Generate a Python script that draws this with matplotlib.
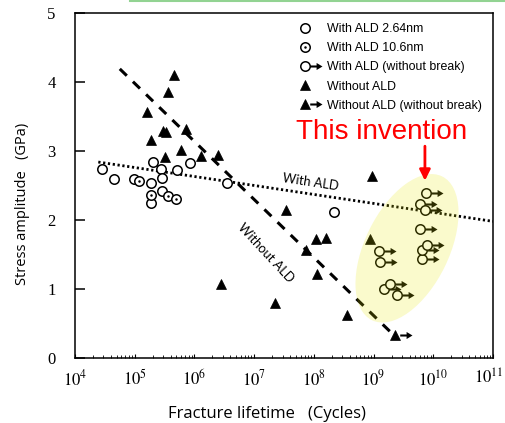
import numpy as np
import matplotlib
matplotlib.use("Agg")
import matplotlib.pyplot as plt
from matplotlib.path import Path
from matplotlib.patches import Ellipse
from matplotlib.lines import Line2D
from matplotlib.legend_handler import HandlerTuple
from matplotlib.transforms import ScaledTranslation

plt.rcParams["mathtext.fontset"] = "stix"

# values (x as log10 of cycles, y in GPa)
ald264_logn = [4.46, 4.65, 4.98, 5.27, 5.30, 5.44, 5.45, 5.71, 5.93, 6.54, 8.34, 5.27, 5.45]
ald264_gpa = [2.74, 2.60, 2.59, 2.53, 2.84, 2.74, 2.61, 2.73, 2.82, 2.53, 2.12, 2.24, 2.42]

ald106_logn = [5.08, 5.27, 5.56, 5.69]
ald106_gpa = [2.57, 2.36, 2.35, 2.31]

ald_nb_logn = [9.88, 9.77, 9.86, 9.78, 9.81, 9.81, 9.90, 9.09, 9.11, 9.18, 9.28, 9.39]
ald_nb_gpa = [2.39, 2.23, 2.14, 1.87, 1.44, 1.57, 1.64, 1.55, 1.39, 1.00, 1.07, 0.91]

noald_logn = [5.65, 5.56, 5.20, 5.48, 5.52, 5.86, 5.28, 5.51, 5.77, 6.11, 6.40,
              7.53, 8.03, 8.20, 7.87, 8.05, 6.45, 7.35, 8.55, 8.97, 8.94]
noald_gpa = [4.10, 3.85, 3.57, 3.29, 3.28, 3.32, 3.16, 2.92, 3.01, 2.93, 2.94,
             2.14, 1.72, 1.74, 1.56, 1.22, 1.07, 0.79, 0.63, 2.64, 1.72]

noald_nb_logn = [9.36]
noald_nb_gpa = [0.33]

with_fit_logn = [4.39, 11.0]
with_fit_gpa = [2.84, 1.98]
without_fit_logn = [4.75, 9.28]
without_fit_gpa = [4.19, 0.38]

decades = [4, 5, 6, 7, 8, 9, 10, 11]


def cyc(v):
    return 10 ** np.array(v)


# arrow marker sitting to the right of a circle (unit = circle radius)
arrow_verts = [(1.0, -0.22), (2.35, -0.22), (2.35, -0.75), (3.6, 0.0),
               (2.35, 0.75), (2.35, 0.22), (1.0, 0.22), (1.0, -0.22)]
arrow_codes = [Path.MOVETO] + [Path.LINETO] * 6 + [Path.CLOSEPOLY]
arrow = Path(arrow_verts, arrow_codes)

ms_c = 6.8
ms_a = 3.6 * ms_c
ms_t = 7.5

fig = plt.figure(figsize=(5.05, 4.23), dpi=100)
ax = fig.add_axes([75 / 505, 1 - 358 / 423, 418 / 505, 345 / 423])

ax.plot(cyc(with_fit_logn), with_fit_gpa, color="black", lw=2.0,
        dashes=(0.8, 0.95), zorder=2)
ax.plot(cyc(without_fit_logn), without_fit_gpa, color="black", lw=2.2,
        dashes=(3.2, 2.8), zorder=2)

circ = dict(marker="o", ms=ms_c, mfc="white", mec="black", mew=1.1, ls="none", zorder=3)
arr = dict(marker=arrow, ms=ms_a, mfc="black", mec="black", mew=0, ls="none", zorder=3)
tri = dict(marker="^", ms=ms_t, mfc="black", mec="black", mew=0.5, ls="none", zorder=3)
dot = dict(marker="o", ms=1.8, mfc="black", mec="black", mew=0, ls="none", zorder=4)

ax.plot(cyc(ald264_logn), ald264_gpa, **circ)
ax.plot(cyc(ald106_logn), ald106_gpa, **circ)
ax.plot(cyc(ald106_logn), ald106_gpa, **dot)
ax.plot(cyc(ald_nb_logn), ald_nb_gpa, **arr)
ax.plot(cyc(ald_nb_logn), ald_nb_gpa, **circ)
ax.plot(cyc(noald_logn), noald_gpa, **tri)
ax.plot(cyc(noald_nb_logn), noald_nb_gpa, **arr)
ax.plot(cyc(noald_nb_logn), noald_nb_gpa, **tri)

# yellow highlight over the new results
ell_tr = fig.dpi_scale_trans + ScaledTranslation(10 ** 9.56, 1.59, ax.transData)
ax.add_patch(Ellipse((0, 0), 1.6, 0.84, angle=64, transform=ell_tr,
                     facecolor=(0.9, 0.9, 0.0), alpha=0.2, edgecolor="none", zorder=5))

ax.text(10 ** 9.14, 3.17, "This invention", color="red", fontsize=20,
        family="Liberation Sans", ha="center", va="baseline", zorder=6)
ax.annotate("", xy=(10 ** 9.86, 2.53), xytext=(10 ** 9.86, 3.11),
            arrowprops=dict(arrowstyle="-|>", color="red", lw=2, mutation_scale=16),
            zorder=6)

ax.text(10 ** 7.94, 2.55, "With ALD", fontsize=9.3, family="Lato",
        rotation=-8.5, ha="center", va="center")
ax.text(10 ** 7.20, 1.52, "Without ALD", fontsize=9.3, family="Lato",
        rotation=-47, ha="center", va="center")

ax.set_xscale("log")
ax.set_xlim(1e4, 1e11)
ax.set_ylim(0, 5)
ax.set_xticks([10.0 ** d for d in decades])
ax.set_xticklabels([f"$10^{{{d}}}$" for d in decades[:-1]] + [""])
# last label sits at the figure edge, nudge it in so it is not clipped
ax.annotate(f"$10^{{{decades[-1]}}}$", xy=(10.0 ** decades[-1], 0),
            xycoords="data", xytext=(-3, -8), textcoords="offset points",
            ha="center", va="top", fontsize=12)
ax.set_yticks([0, 1, 2, 3, 4, 5])
ax.set_yticklabels(["0", "1", "2", "3", "4", "5"], family="Liberation Serif")
ax.tick_params(axis="y", direction="in", length=7, width=1.1, pad=14, labelsize=12)
ax.tick_params(axis="x", which="major", direction="in", length=3, width=0.8,
               pad=8, labelsize=12)
ax.tick_params(axis="x", which="minor", direction="in", length=2, width=0.6)
for s in ax.spines.values():
    s.set_linewidth(1.1)

ax.set_xlabel("Fracture lifetime   (Cycles)", family="Open Sans", fontsize=12)
ax.xaxis.set_label_coords(0.459, -0.138)
ax.set_ylabel("Stress amplitude   (GPa)", family="Open Sans", fontsize=10.5)
ax.yaxis.set_label_coords(-0.108, 0.446)

h1 = Line2D([], [], **circ)
h2 = (Line2D([], [], **circ), Line2D([], [], **dot))
h3 = (Line2D([], [], **arr), Line2D([], [], **circ))
h4 = Line2D([], [], **tri)
h5 = (Line2D([], [], **arr), Line2D([], [], **tri))
ax.legend([h1, h2, h3, h4, h5],
          ["With ALD 2.64nm", "With ALD 10.6nm", "With ALD (without break)",
           "Without ALD", "Without ALD (without break)"],
          handler_map={tuple: HandlerTuple(ndivide=1)},
          loc="upper left", bbox_to_anchor=(299 / 505, 1 - 23 / 423),
          bbox_transform=fig.transFigure, frameon=False, borderpad=0,
          borderaxespad=0, numpoints=1, handlelength=1.0, handletextpad=1.3,
          labelspacing=0.58, prop={"family": "Liberation Sans", "size": 8.9})

fig.add_artist(Line2D([130 / 505, 1], [1 - 1 / 423, 1 - 1 / 423],
                      transform=fig.transFigure, color="#92d392", lw=1.5))

fig.savefig("out.png", dpi=100)
